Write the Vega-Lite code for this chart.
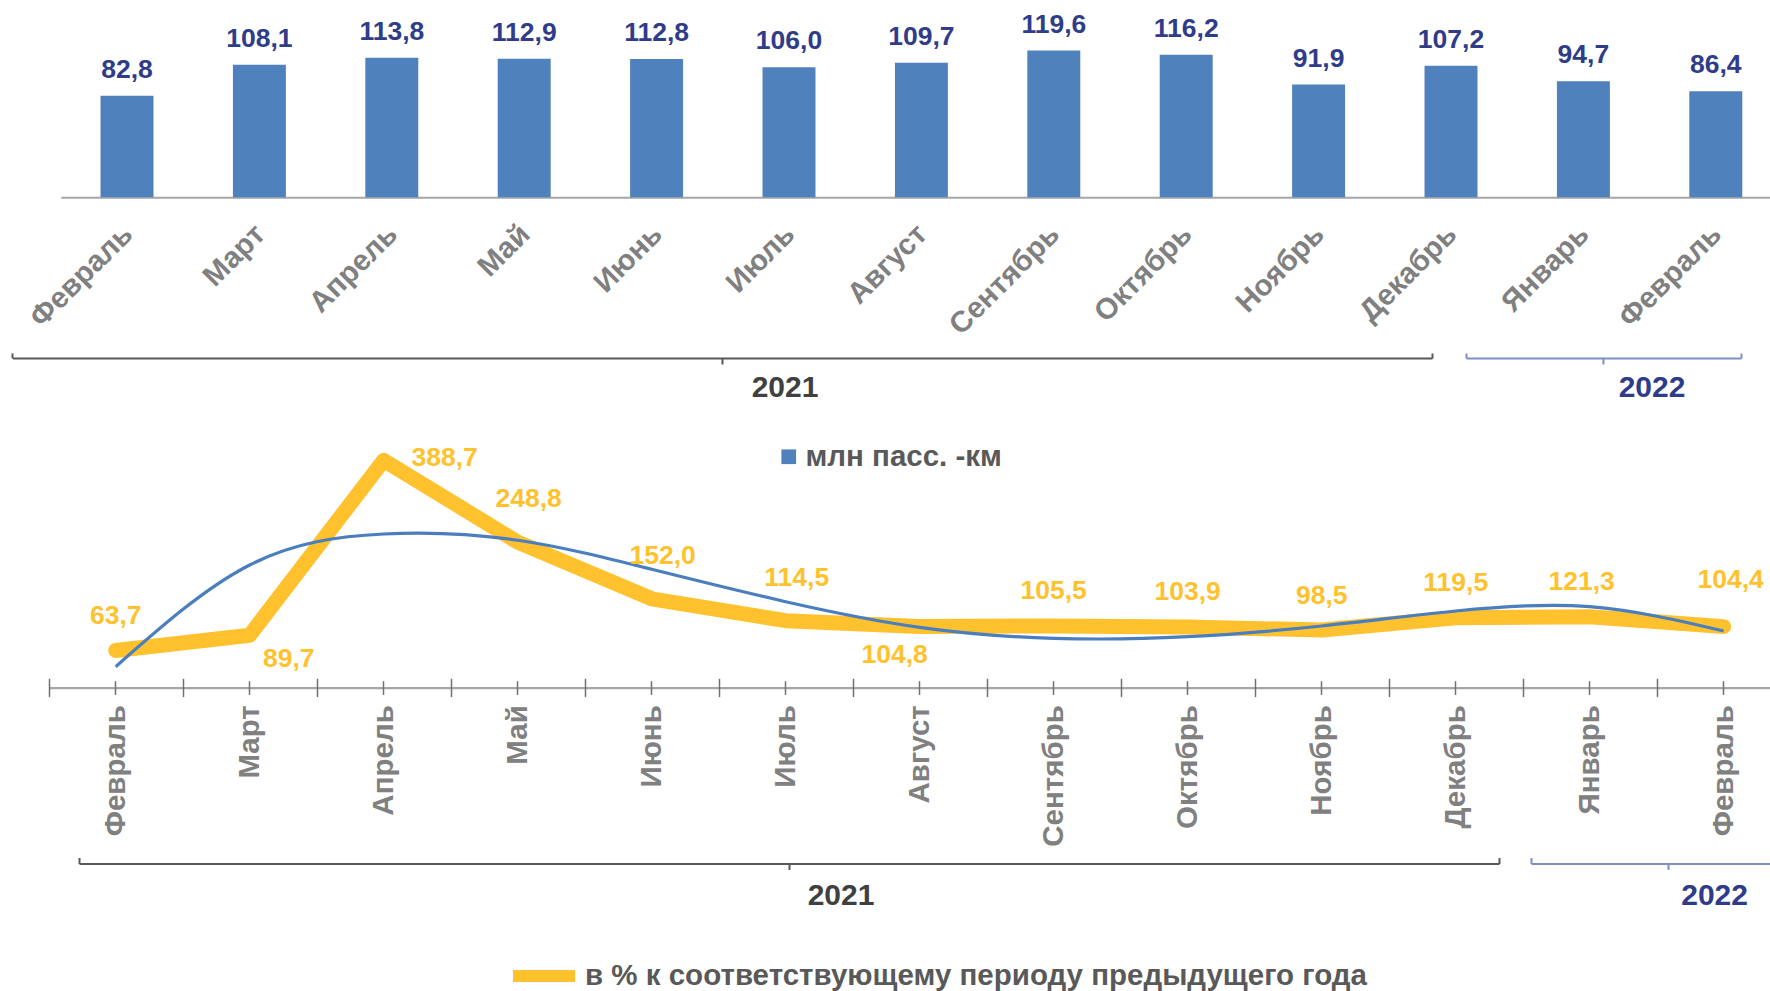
{
  "$schema": "https://vega.github.io/schema/vega-lite/v6.json",
  "width": 1770,
  "height": 991,
  "autosize": {"type": "none"},
  "padding": 0,
  "background": "white",
  "config": {
    "font": "Liberation Sans",
    "view": {"stroke": null},
    "locale": {"number": {"decimal": ",", "thousands": " ", "grouping": [3], "currency": ["", ""]}},
    "axis": {"labelFont": "Liberation Sans", "titleFont": "Liberation Sans", "grid": false},
    "legend": {"labelFont": "Liberation Sans", "titleFont": "Liberation Sans"},
    "text": {"font": "Liberation Sans"}
  },
  "datasets": {
    "months": [
      {"m": "Февраль 2021", "pkm": 82.8, "pct": 63.7, "trend": 35.9},
      {"m": "Март 2021", "pkm": 108.1, "pct": 89.7, "trend": 209.7},
      {"m": "Апрель 2021", "pkm": 113.8, "pct": 388.7, "trend": 262.7},
      {"m": "Май 2021", "pkm": 112.9, "pct": 248.8, "trend": 252.0},
      {"m": "Июнь 2021", "pkm": 112.8, "pct": 152.0, "trend": 202.4},
      {"m": "Июль 2021", "pkm": 106.0, "pct": 114.5, "trend": 147.0},
      {"m": "Август 2021", "pkm": 109.7, "pct": 104.8, "trend": 103.2},
      {"m": "Сентябрь 2021", "pkm": 119.6, "pct": 105.5, "trend": 84.4},
      {"m": "Октябрь 2021", "pkm": 116.2, "pct": 103.9, "trend": 87.2},
      {"m": "Ноябрь 2021", "pkm": 91.9, "pct": 98.5, "trend": 105.5},
      {"m": "Декабрь 2021", "pkm": 107.2, "pct": 119.5, "trend": 131.1},
      {"m": "Январь 2022", "pkm": 94.7, "pct": 121.3, "trend": 138.5},
      {"m": "Февраль 2022", "pkm": 86.4, "pct": 104.4, "trend": 96.9}
    ],
    "years": [{"year": "2021"}, {"year": "2022"}]
  },
  "layer": [
    {
      "data": {"name": "months"},
      "encoding": {
        "x": {"field": "m", "type": "nominal", "sort": null,
          "scale": {"type": "band", "range": [60.8, 1782], "paddingInner": 0.6, "paddingOuter": 0.3},
          "axis": {"orient": "bottom", "offset": -793.7, "title": null, "domain": true, "domainColor": "#A6A6A6", "domainWidth": 2, "ticks": false, "tickSize": 0, "labelAngle": -45, "labelAlign": "right", "labelBaseline": "top", "labelPadding": 22, "labelOffset": -9, "labelFontSize": 29.5, "labelFontWeight": "bold", "labelColor": "#808080", "labelExpr": "split(datum.value, ' ')[0]", "labelOverlap": false, "labelBound": false, "labelFlush": false, "grid": false}},
        "y": {"field": "pkm", "type": "quantitative", "scale": {"domain": [0, 150], "range": [197.3, 13.3], "nice": false}, "axis": null}
      },
      "layer": [
        {"mark": {"type": "bar"},
         "encoding": {"color": {"datum": "млн пасс. -км", "scale": {"range": ["#4F81BD"]},
           "legend": {"orient": "none", "legendX": 774, "legendY": 442, "title": null, "symbolType": "square", "symbolSize": 216, "symbolStrokeWidth": 0, "labelFontSize": 29.5, "labelFontWeight": "bold", "labelColor": "#595959", "labelOffset": 2, "labelLimit": 800, "padding": 0}}}},
        {"mark": {"type": "text", "dy": -26, "fontSize": 26.5, "fontWeight": "bold", "color": "#2F3C8A"},
         "encoding": {"text": {"field": "pkm", "type": "quantitative", "format": ".1f"}}}
      ]
    },
    {
      "data": {"name": "months"},
      "layer": [
        {
          "encoding": {
            "x": {"field": "m", "type": "nominal", "sort": null,
              "scale": {"type": "band", "range": [48.7, 1790.7], "paddingInner": 0, "paddingOuter": 0},
              "axis": {"orient": "bottom", "offset": -303.3, "title": null, "domain": true, "domainColor": "#A6A6A6", "domainWidth": 2.3, "ticks": false, "tickSize": 0, "labelAngle": -90, "labelAlign": "right", "labelBaseline": "middle", "labelPadding": 17, "labelFontSize": 29.5, "labelFontWeight": "bold", "labelColor": "#808080", "labelExpr": "split(datum.value, ' ')[0]", "labelOverlap": false, "labelBound": false, "labelFlush": false, "grid": false}},
            "y": {"field": "pct", "type": "quantitative", "scale": {"domain": [0, 400], "range": [687.7, 453.7], "nice": false}, "axis": null}
          },
          "layer": [
            {"mark": {"type": "line", "strokeWidth": 15, "strokeCap": "round", "strokeJoin": "round"},
             "encoding": {"color": {"datum": "в % к соответствующему периоду предыдущего года", "scale": {"range": ["#FFC22E"]},
               "legend": {"orient": "none", "legendX": 507, "legendY": 939, "title": null, "symbolType": "stroke", "symbolSize": 3844, "symbolStrokeWidth": 12, "labelFontSize": 29.5, "labelFontWeight": "bold", "labelColor": "#595959", "labelOffset": 4, "labelLimit": 1200, "padding": 0}}}},
            {"mark": {"type": "line", "color": "#4A7EBF", "strokeWidth": 3.2, "interpolate": "natural"},
             "encoding": {"y": {"field": "trend", "type": "quantitative", "scale": {"domain": [0, 400], "range": [687.7, 453.7], "nice": false}, "axis": null}}},
            {"transform": [{"filter": {"field": "m", "oneOf": ["Февраль 2021", "Сентябрь 2021", "Октябрь 2021", "Ноябрь 2021", "Декабрь 2021"]}}],
             "mark": {"type": "text", "dx": 0, "dy": -34.5, "fontSize": 26.5, "fontWeight": "bold", "color": "#FFC22E"},
             "encoding": {"text": {"field": "pct", "type": "quantitative", "format": ".1f"}}},
            {"transform": [{"filter": {"field": "m", "oneOf": ["Январь 2022"]}}],
             "mark": {"type": "text", "dx": -8, "dy": -35, "fontSize": 26.5, "fontWeight": "bold", "color": "#FFC22E"},
             "encoding": {"text": {"field": "pct", "type": "quantitative", "format": ".1f"}}},
            {"transform": [{"filter": {"field": "m", "oneOf": ["Февраль 2022"]}}],
             "mark": {"type": "text", "dx": 7, "dy": -46.6, "fontSize": 26.5, "fontWeight": "bold", "color": "#FFC22E"},
             "encoding": {"text": {"field": "pct", "type": "quantitative", "format": ".1f"}}},
            {"transform": [{"filter": {"field": "m", "oneOf": ["Март 2021"]}}],
             "mark": {"type": "text", "dx": 39, "dy": 23.5, "fontSize": 26.5, "fontWeight": "bold", "color": "#FFC22E"},
             "encoding": {"text": {"field": "pct", "type": "quantitative", "format": ".1f"}}},
            {"transform": [{"filter": {"field": "m", "oneOf": ["Апрель 2021"]}}],
             "mark": {"type": "text", "dx": 61, "dy": -2, "fontSize": 26.5, "fontWeight": "bold", "color": "#FFC22E"},
             "encoding": {"text": {"field": "pct", "type": "quantitative", "format": ".1f"}}},
            {"transform": [{"filter": {"field": "m", "oneOf": ["Май 2021", "Июнь 2021", "Июль 2021"]}}],
             "mark": {"type": "text", "dx": 11, "dy": -43, "fontSize": 26.5, "fontWeight": "bold", "color": "#FFC22E"},
             "encoding": {"text": {"field": "pct", "type": "quantitative", "format": ".1f"}}},
            {"transform": [{"filter": {"field": "m", "oneOf": ["Август 2021"]}}],
             "mark": {"type": "text", "dx": -25, "dy": 29, "fontSize": 26.5, "fontWeight": "bold", "color": "#FFC22E"},
             "encoding": {"text": {"field": "pct", "type": "quantitative", "format": ".1f"}}}
          ]
        },
        {"mark": {"type": "point", "opacity": 0},
         "encoding": {"x": {"field": "m", "type": "nominal", "sort": null,
           "scale": {"type": "band", "range": [48.7, 1790.7], "paddingInner": 0, "paddingOuter": 0},
           "axis": {"orient": "bottom", "offset": -310.3, "title": null, "domain": false, "labels": false, "ticks": true, "tickBand": "center", "tickSize": 13.7, "tickColor": "#707070", "tickWidth": 1.5, "grid": false}}}},
        {"mark": {"type": "point", "opacity": 0},
         "encoding": {"x": {"field": "m", "type": "nominal", "sort": null,
           "scale": {"type": "band", "range": [48.7, 1790.7], "paddingInner": 0, "paddingOuter": 0},
           "axis": {"orient": "bottom", "offset": -312.7, "title": null, "domain": false, "labels": false, "ticks": true, "tickBand": "extent", "tickSize": 18.3, "tickColor": "#707070", "tickWidth": 1.5, "grid": false}}}}
      ],
      "resolve": {"axis": {"x": "independent"}}
    },
    {
      "data": {"name": "years"},
      "transform": [{"filter": "datum.year == '2021'"}],
      "layer": [
        {"mark": {"type": "point", "opacity": 0},
         "encoding": {"x": {"field": "year", "type": "nominal", "scale": {"type": "band", "range": [12.4, 1432], "paddingInner": 0, "paddingOuter": 0},
           "axis": {"orient": "bottom", "offset": -633, "title": null, "domain": true, "domainColor": "#595959", "domainWidth": 2, "ticks": true, "tickBand": "center", "tickSize": 6, "tickColor": "#595959", "tickWidth": 2, "labelAngle": 0, "labelAlign": "center", "labelBaseline": "middle", "labelPadding": 23, "labelOffset": 62.8, "labelFontSize": 30, "labelFontWeight": "bold", "labelColor": "#404040", "labelBound": false, "labelFlush": false, "labelOverlap": false, "grid": false}}}},
        {"mark": {"type": "point", "opacity": 0},
         "encoding": {"x": {"field": "year", "type": "nominal", "scale": {"type": "band", "range": [12.4, 1432], "paddingInner": 0, "paddingOuter": 0},
           "axis": {"orient": "bottom", "offset": -638, "title": null, "domain": false, "labels": false, "ticks": true, "tickBand": "extent", "tickSize": 5, "tickColor": "#595959", "tickWidth": 2, "grid": false}}}}
      ],
      "resolve": {"axis": {"x": "independent"}}
    },
    {
      "data": {"name": "years"},
      "transform": [{"filter": "datum.year == '2022'"}],
      "layer": [
        {"mark": {"type": "point", "opacity": 0},
         "encoding": {"x": {"field": "year", "type": "nominal", "scale": {"type": "band", "range": [1466, 1741], "paddingInner": 0, "paddingOuter": 0},
           "axis": {"orient": "bottom", "offset": -633, "title": null, "domain": true, "domainColor": "#7F8FC6", "domainWidth": 2, "ticks": true, "tickBand": "center", "tickSize": 6, "tickColor": "#7F8FC6", "tickWidth": 2, "labelAngle": 0, "labelAlign": "center", "labelBaseline": "middle", "labelPadding": 23, "labelOffset": 48.5, "labelFontSize": 30, "labelFontWeight": "bold", "labelColor": "#2F3C8A", "labelBound": false, "labelFlush": false, "labelOverlap": false, "grid": false}}}},
        {"mark": {"type": "point", "opacity": 0},
         "encoding": {"x": {"field": "year", "type": "nominal", "scale": {"type": "band", "range": [1466, 1741], "paddingInner": 0, "paddingOuter": 0},
           "axis": {"orient": "bottom", "offset": -638, "title": null, "domain": false, "labels": false, "ticks": true, "tickBand": "extent", "tickSize": 5, "tickColor": "#7F8FC6", "tickWidth": 2, "grid": false}}}}
      ],
      "resolve": {"axis": {"x": "independent"}}
    },
    {
      "data": {"name": "years"},
      "transform": [{"filter": "datum.year == '2021'"}],
      "layer": [
        {"mark": {"type": "point", "opacity": 0},
         "encoding": {"x": {"field": "year", "type": "nominal", "scale": {"type": "band", "range": [79, 1499], "paddingInner": 0, "paddingOuter": 0},
           "axis": {"orient": "bottom", "offset": -127.5, "title": null, "domain": true, "domainColor": "#595959", "domainWidth": 2, "ticks": true, "tickBand": "center", "tickSize": 6, "tickColor": "#595959", "tickWidth": 2, "labelAngle": 0, "labelAlign": "center", "labelBaseline": "middle", "labelPadding": 25.5, "labelOffset": 52, "labelFontSize": 30, "labelFontWeight": "bold", "labelColor": "#404040", "labelBound": false, "labelFlush": false, "labelOverlap": false, "grid": false}}}},
        {"mark": {"type": "point", "opacity": 0},
         "encoding": {"x": {"field": "year", "type": "nominal", "scale": {"type": "band", "range": [79, 1499], "paddingInner": 0, "paddingOuter": 0},
           "axis": {"orient": "bottom", "offset": -133.5, "title": null, "domain": false, "labels": false, "ticks": true, "tickBand": "extent", "tickSize": 6, "tickColor": "#595959", "tickWidth": 2, "grid": false}}}}
      ],
      "resolve": {"axis": {"x": "independent"}}
    },
    {
      "data": {"name": "years"},
      "transform": [{"filter": "datum.year == '2022'"}],
      "layer": [
        {"mark": {"type": "point", "opacity": 0},
         "encoding": {"x": {"field": "year", "type": "nominal", "scale": {"type": "band", "range": [1531, 1805], "paddingInner": 0, "paddingOuter": 0},
           "axis": {"orient": "bottom", "offset": -127.5, "title": null, "domain": true, "domainColor": "#7F8FC6", "domainWidth": 2, "ticks": true, "tickBand": "center", "tickSize": 6, "tickColor": "#7F8FC6", "tickWidth": 2, "labelAngle": 0, "labelAlign": "center", "labelBaseline": "middle", "labelPadding": 25.5, "labelOffset": 46.6, "labelFontSize": 30, "labelFontWeight": "bold", "labelColor": "#2F3C8A", "labelBound": false, "labelFlush": false, "labelOverlap": false, "grid": false}}}},
        {"mark": {"type": "point", "opacity": 0},
         "encoding": {"x": {"field": "year", "type": "nominal", "scale": {"type": "band", "range": [1531, 1805], "paddingInner": 0, "paddingOuter": 0},
           "axis": {"orient": "bottom", "offset": -133.5, "title": null, "domain": false, "labels": false, "ticks": true, "tickBand": "extent", "tickSize": 6, "tickColor": "#7F8FC6", "tickWidth": 2, "grid": false}}}}
      ],
      "resolve": {"axis": {"x": "independent"}}
    }
  ],
  "resolve": {"scale": {"x": "independent", "y": "independent", "color": "independent"}}
}
